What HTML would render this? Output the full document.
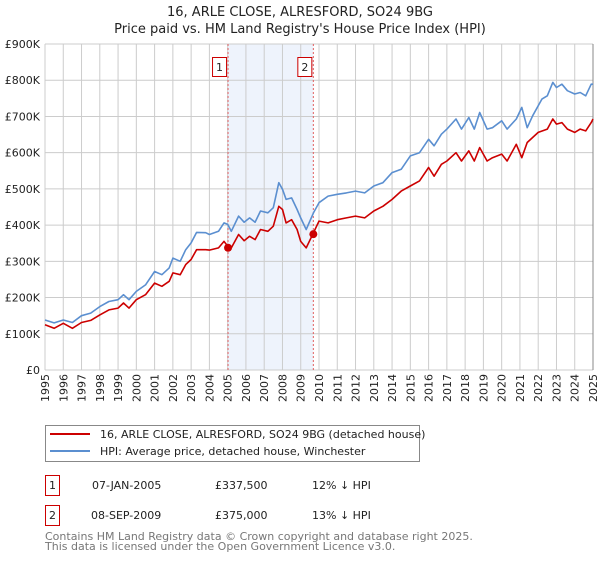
<!DOCTYPE html>
<html><head><meta charset="utf-8"><style>
body{margin:0;background:#fff;font-family:"Liberation Sans","DejaVu Sans",sans-serif}
svg text{font-family:"DejaVu Sans","Liberation Sans",sans-serif}
</style></head><body>
<svg id="c" width="600" height="560" xmlns="http://www.w3.org/2000/svg">
<text x="300" y="16" text-anchor="middle" font-size="13" fill="#222">16, ARLE CLOSE, ALRESFORD, SO24 9BG</text>
<text x="300" y="33" text-anchor="middle" font-size="13" fill="#222">Price paid vs. HM Land Registry's House Price Index (HPI)</text>
<g id="plot"></g>
<g>
<rect x="45.5" y="425.5" width="374" height="36" fill="#fff" stroke="#888"/>
<line x1="50" y1="434" x2="90" y2="434" stroke="#cc0000" stroke-width="2"/>
<text x="100" y="438" font-size="11" fill="#222">16, ARLE CLOSE, ALRESFORD, SO24 9BG (detached house)</text>
<line x1="50" y1="451" x2="90" y2="451" stroke="#5b8fd0" stroke-width="2"/>
<text x="100" y="455" font-size="11" fill="#222">HPI: Average price, detached house, Winchester</text>
</g>
<g font-size="11" fill="#222">
<rect x="45.5" y="475.5" width="14" height="20" fill="#fff" stroke="#cc0000"/>
<text x="52.5" y="489" text-anchor="middle">1</text>
<text x="92" y="489">07-JAN-2005</text><text x="215" y="489">£337,500</text><text x="312" y="489">12% ↓ HPI</text>
<rect x="45.5" y="505.5" width="14" height="20" fill="#fff" stroke="#cc0000"/>
<text x="52.5" y="519" text-anchor="middle">2</text>
<text x="91" y="519">08-SEP-2009</text><text x="215" y="519">£375,000</text><text x="312" y="519">13% ↓ HPI</text>
</g>
<text x="45" y="540" font-size="11" fill="#777">Contains HM Land Registry data © Crown copyright and database right 2025.</text>
<text x="45" y="550" font-size="11" fill="#777">This data is licensed under the Open Government Licence v3.0.</text>
</svg>
<script>
const yTicks=[0,100,200,300,400,500,600,700,800,900];
const yTickLabels=["£0","£100K","£200K","£300K","£400K","£500K","£600K","£700K","£800K","£900K"];
const xYears=[1995,1996,1997,1998,1999,2000,2001,2002,2003,2004,2005,2006,2007,2008,2009,2010,2011,2012,2013,2014,2015,2016,2017,2018,2019,2020,2021,2022,2023,2024,2025];
const hpiT=[1995,1995.5,1996,1996.5,1997,1997.5,1998,1998.5,1999,1999.3,1999.6,2000,2000.5,2001,2001.4,2001.8,2002,2002.4,2002.7,2003,2003.3,2003.8,2004,2004.5,2004.8,2005,2005.2,2005.6,2005.9,2006.2,2006.5,2006.8,2007.2,2007.5,2007.8,2008,2008.2,2008.5,2008.8,2009,2009.3,2009.7,2010,2010.5,2011,2011.5,2012,2012.5,2013,2013.5,2014,2014.5,2015,2015.5,2016,2016.3,2016.7,2017,2017.5,2017.8,2018.2,2018.5,2018.8,2019.2,2019.5,2020,2020.3,2020.8,2021.1,2021.4,2021.7,2022.2,2022.5,2022.8,2023,2023.3,2023.6,2024,2024.3,2024.6,2024.9,2025];
const hpiV=[138,130,138,131,150,157,175,189,194,208,194,217,235,272,263,282,309,300,332,351,380,379,374,383,406,402,383,425,408,420,408,439,434,448,517,499,471,475,443,420,388,434,462,480,485,489,494,489,508,517,545,554,591,600,637,619,651,665,693,665,697,665,711,665,669,688,665,693,725,669,702,748,757,794,780,789,771,762,766,757,789,789];
const propT=[1995,1995.5,1996,1996.5,1997,1997.5,1998,1998.5,1999,1999.3,1999.6,2000,2000.5,2001,2001.4,2001.8,2002,2002.4,2002.7,2003,2003.3,2003.8,2004,2004.5,2004.8,2005,2005.2,2005.6,2005.9,2006.2,2006.5,2006.8,2007.2,2007.5,2007.8,2008,2008.2,2008.5,2008.8,2009,2009.3,2009.7,2010,2010.5,2011,2011.5,2012,2012.5,2013,2013.5,2014,2014.5,2015,2015.5,2016,2016.3,2016.7,2017,2017.5,2017.8,2018.2,2018.5,2018.8,2019.2,2019.5,2020,2020.3,2020.8,2021.1,2021.4,2022,2022.5,2022.8,2023,2023.3,2023.6,2024,2024.3,2024.6,2024.9,2025];
const propV=[125,115,129,115,131,137,152,166,171,185,171,194,208,240,231,245,268,263,291,305,332,332,331,337,355,342,337,374,357,369,360,388,383,397,452,443,406,415,388,355,337,379,411,406,415,420,425,420,439,452,471,494,508,522,559,535,568,577,600,577,605,577,614,577,586,596,577,623,586,628,656,665,693,679,683,665,656,665,660,683,693];
const saleT=[2005.02,2009.69];
const saleV=[337.5,375];
const saleLabels=["1","2"];

const L=45,R=593,T=44,B=370;
const xs=t=>L+(t-1995)/30*(R-L);
const ys=v=>B-v/900*(B-T);
const NS="http://www.w3.org/2000/svg";
const g=document.getElementById('plot');
function mk(tag,attrs,parent){const e=document.createElementNS(NS,tag);for(const k in attrs)e.setAttribute(k,attrs[k]);(parent||g).appendChild(e);return e;}
// shaded
const sh=mk('rect',{x:xs(saleT[0]),y:T,width:xs(saleT[1])-xs(saleT[0]),height:B-T,fill:'#eef3fc'});


// grid
yTicks.forEach((v,i)=>{
 const l=mk('line',{x1:L,x2:R,y1:ys(v),y2:ys(v),stroke:'#cccccc','stroke-width':1});
 
 
 const t=mk('text',{x:L-5,y:ys(v)+4,'text-anchor':'end','font-size':11,fill:'#222'});
 t.textContent=yTickLabels[i];
 
 
});
xYears.forEach(yr=>{
 const l=mk('line',{x1:xs(yr),x2:xs(yr),y1:T,y2:B,stroke:'#cccccc','stroke-width':1});
 
 
 const t=mk('text',{transform:`translate(${xs(yr)+4},374) rotate(-90)`,'text-anchor':'end','font-size':11,fill:'#222'});
 t.textContent=yr;
 
 
});
const ax=mk('line',{x1:R,x2:R,y1:T,y2:B,stroke:'#888'});


// sale vlines
saleT.forEach((t,i)=>{
 const l=mk('line',{x1:xs(t),x2:xs(t),y1:T,y2:B,stroke:'#e06060','stroke-dasharray':'2,2'});
 
 
 const r=mk('rect',{x:xs(t)-15.5,y:57.5,width:14,height:19,fill:'#fff',stroke:'#cc0000'});
 
 
 const tx=mk('text',{x:xs(t)-8.5,y:71,'text-anchor':'middle','font-size':11,fill:'#222'});
 tx.textContent=saleLabels[i];
 
 
});
function line(T_,V_,col,name){
 const d=T_.map((t,i)=>(i?'L':'M')+xs(t).toFixed(1)+','+ys(V_[i]).toFixed(1)).join('');
 const p=mk('path',{d:d,fill:'none',stroke:col,'stroke-width':1.6,'stroke-linejoin':'round'});
 
 
}
line(hpiT,hpiV,'#5b8fd0','hpi-line');
line(propT,propV,'#cc0000','property-line');
saleT.forEach((t,i)=>{
 const c=mk('circle',{cx:xs(t),cy:ys(saleV[i]),r:4,fill:'#cc0000'});
 
 
});
</script>
</body></html>
